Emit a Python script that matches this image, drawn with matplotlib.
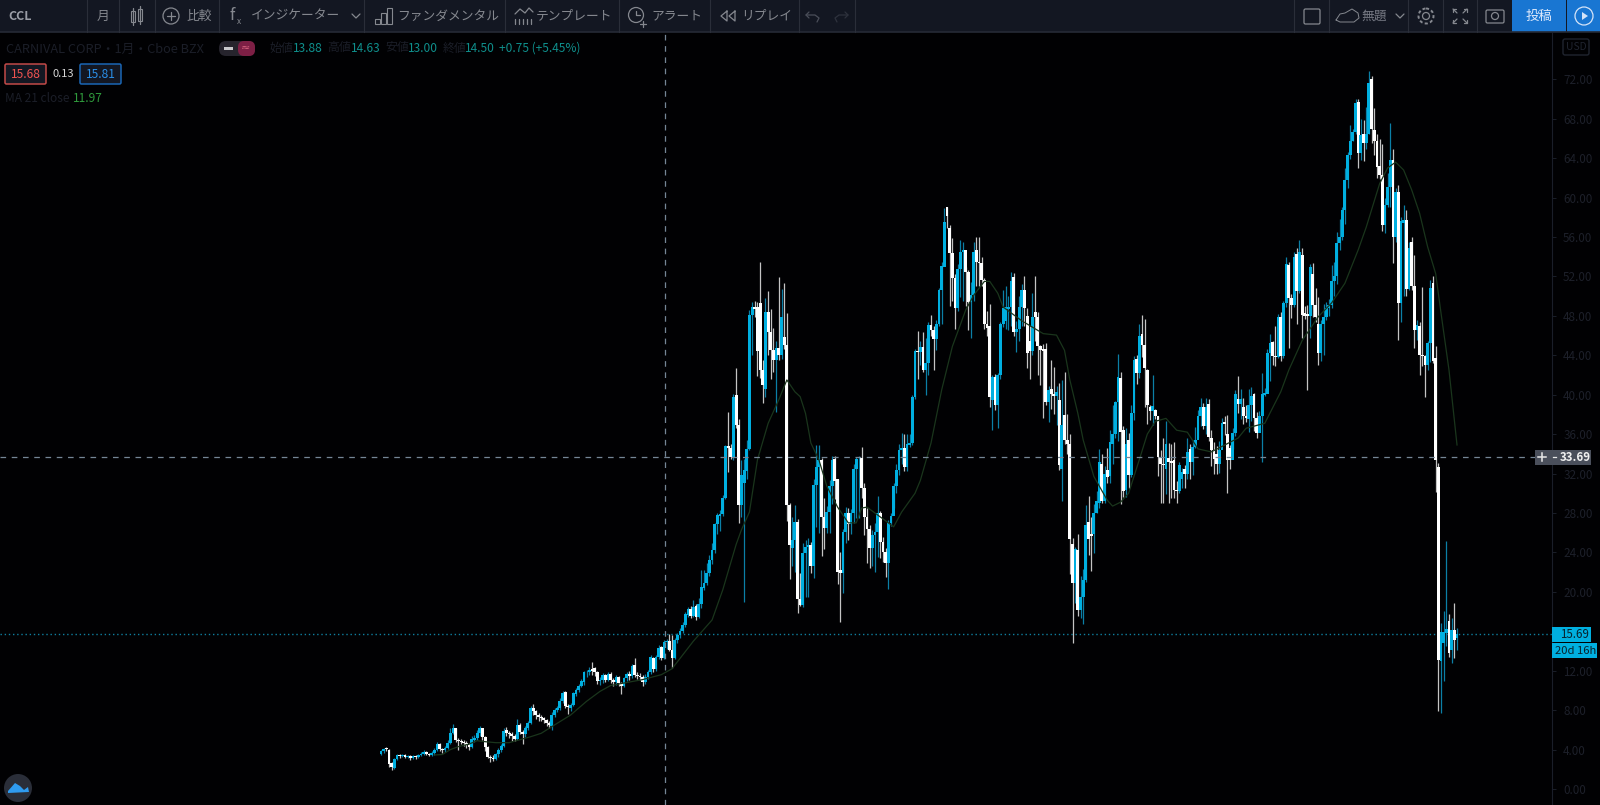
import matplotlib
matplotlib.use('Agg')
import matplotlib.pyplot as plt
from matplotlib.patches import Circle, FancyBboxPatch, Polygon, Rectangle

plt.rcParams['font.family'] = ['Noto Sans CJK JP', 'DejaVu Sans']

# candles, ten per row
opens = [
    3.55, 3.85, 4.2, 4.0, 2.6, 2.1, 3.0, 3.45, 3.3, 3.45,
    3.25, 3.35, 3.1, 3.3, 3.2, 3.4, 3.6, 3.75, 3.6, 3.45,
    3.7, 4.0, 4.6, 4.1, 3.95, 4.2, 4.7, 5.7, 6.15, 5.0,
    4.9, 4.8, 4.7, 4.5, 4.3, 5.0, 5.2, 5.7, 6.15, 5.3,
    4.3, 3.2, 3.1, 3.0, 3.6, 4.0, 4.4, 6.0, 5.7, 5.6,
    5.4, 5.1, 6.5, 5.8, 5.6, 6.2, 6.7, 8.2, 7.9, 7.5,
    7.35, 7.2, 7.0, 6.65, 6.4, 7.5, 8.0, 8.2, 8.9, 9.8,
    8.4, 8.2, 8.5, 9.6, 10.0, 10.4, 10.9, 11.9, 11.9, 12.2,
    12.3, 11.9, 11.0, 11.1, 11.6, 11.1, 11.7, 11.1, 10.9, 11.4,
    10.8, 10.5, 11.3, 11.7, 11.5, 12.6, 11.6, 11.5, 11.4, 10.9,
    11.4, 11.9, 13.3, 12.2, 13.4, 14.4, 13.3, 14.9, 15.0, 14.1,
    13.3, 15.1, 15.6, 16.0, 16.6, 17.7, 18.3, 17.6, 18.6, 17.5,
    18.8, 20.4, 20.9, 21.9, 23.2, 24.2, 26.9, 27.7, 27.9, 29.5,
    34.8, 34.6, 33.7, 40.0, 36.9, 28.8, 31.0, 32.3, 34.5, 48.1,
    48.9, 48.9, 49.3, 42.5, 40.6, 48.4, 46.4, 44.5, 43.5, 44.7,
    44.0, 45.9, 45.0, 28.8, 24.5, 25.3, 27.1, 19.3, 18.7, 23.9,
    24.6, 24.8, 22.6, 30.8, 32.7, 33.4, 27.6, 26.5, 28.1, 30.7,
    33.5, 31.4, 22.2, 21.9, 26.1, 28.0, 26.9, 28.0, 32.5, 33.5,
    33.6, 30.5, 27.6, 26.4, 24.4, 25.8, 26.1, 28.0, 25.1, 24.0,
    22.9, 27.0, 27.7, 30.7, 32.4, 34.4, 34.6, 32.7, 34.9, 35.1,
    39.8, 44.4, 44.3, 44.8, 42.5, 43.2, 47.1, 46.6, 45.7, 47.2,
    50.6, 53.0, 59.0, 56.9, 54.4, 51.8, 48.8, 52.8, 54.5, 54.7,
    52.5, 49.4, 50.1, 54.7, 53.5, 53.4, 51.6, 47.2, 47.0, 39.5,
    41.8, 39.0, 42.0, 47.2, 47.5, 48.7, 48.9, 51.9, 46.4, 46.7,
    48.9, 50.6, 48.0, 45.5, 44.4, 48.4, 47.9, 44.9, 44.6, 44.6,
    39.3, 40.6, 40.1, 39.9, 39.5, 32.5, 37.9, 35.4, 35.0, 24.9,
    20.9, 24.25, 18.2, 19.5, 21.2, 27.1, 25.9, 25.9, 28.0, 29.0,
    33.0, 29.2, 32.4, 31.8, 35.0, 36.0, 39.3, 41.7, 36.4, 30.3,
    35.4, 31.9, 38.1, 43.6, 42.2, 46.2, 45.0, 42.5, 38.8, 38.3,
    38.4, 37.8, 33.7, 33.0, 32.5, 33.6, 33.3, 33.4, 30.3, 30.2,
    31.5, 32.5, 32.0, 34.5, 33.2, 34.7, 35.4, 37.8, 38.8, 36.8,
    39.1, 35.6, 34.4, 34.0, 33.0, 34.4, 37.2, 36.0, 34.6, 33.4,
    36.1, 39.6, 39.1, 38.8, 37.8, 37.5, 39.0, 40.1, 37.6, 36.1,
    37.8, 40.0, 40.1, 44.2, 45.3, 43.9, 43.8, 47.9, 43.9, 49.3,
    53.2, 49.8, 49.1, 54.3, 50.5, 54.2, 48.3, 48.2, 48.0, 52.2,
    49.1, 47.2, 44.2, 47.2, 47.9, 48.8, 49.1, 51.5, 52.0, 55.4,
    56.0, 58.7, 61.8, 64.3, 65.7, 66.7, 69.7, 64.5, 66.5, 65.5,
    66.4, 72.0, 66.9, 65.7, 63.2, 62.3, 57.2, 59.2, 61.1, 63.8,
    56.0, 60.6, 49.3, 57.4, 57.7, 50.7, 55.5, 51.0, 46.6, 47.0,
    44.0, 43.9, 43.0, 45.2, 51.3, 43.7, 32.7, 13.0, 14.8, 15.8,
    17.0, 14.1, 16.1, 15.3,
]
highs = [
    3.95, 4.2, 4.3, 4.05, 2.7, 3.1, 3.55, 3.55, 3.6, 3.55,
    3.5, 3.5, 3.45, 3.4, 3.6, 3.8, 3.95, 3.85, 3.7, 3.85,
    4.2, 4.75, 4.7, 4.2, 4.4, 5.0, 6.2, 6.6, 6.2, 5.2,
    5.1, 5.0, 4.9, 4.7, 5.4, 5.5, 6.0, 6.4, 6.2, 5.4,
    4.4, 3.5, 3.4, 3.7, 4.2, 4.6, 6.2, 6.3, 5.9, 5.8,
    5.6, 7.1, 6.7, 6.0, 6.4, 6.9, 8.4, 8.6, 8.0, 7.7,
    7.5, 7.3, 7.1, 6.9, 7.8, 8.2, 8.4, 9.2, 9.9, 9.9,
    8.6, 8.7, 9.8, 10.2, 10.7, 11.2, 12.0, 12.1, 12.4, 12.9,
    12.4, 12.0, 11.4, 11.8, 11.7, 11.9, 11.9, 11.3, 11.6, 11.5,
    10.9, 11.4, 11.9, 12.0, 12.7, 13.3, 11.9, 11.8, 11.6, 11.7,
    12.1, 13.6, 13.4, 13.6, 14.6, 14.5, 15.1, 15.2, 15.7, 15.6,
    15.3, 15.8, 16.3, 16.9, 18.0, 18.5, 18.6, 19.2, 18.8, 19.4,
    22.2, 22.2, 22.9, 23.7, 25.0, 27.0, 28.0, 28.3, 29.8, 34.9,
    38.2, 35.0, 40.1, 42.7, 37.5, 33.4, 33.5, 35.4, 48.6, 49.4,
    49.5, 49.4, 53.5, 43.5, 49.8, 50.5, 48.7, 46.8, 45.5, 51.9,
    50.7, 51.3, 48.3, 29.0, 27.6, 28.8, 27.4, 21.9, 25.0, 25.3,
    25.5, 25.1, 31.5, 34.9, 34.9, 33.6, 29.5, 28.7, 31.3, 33.8,
    33.8, 31.4, 24.0, 26.4, 28.6, 28.5, 28.4, 33.0, 33.7, 33.8,
    34.7, 31.0, 28.5, 26.8, 26.3, 27.0, 29.7, 28.2, 25.6, 24.5,
    27.3, 28.0, 31.0, 33.0, 35.0, 36.1, 36.0, 36.0, 36.0, 40.0,
    44.6, 46.5, 45.4, 46.4, 45.8, 47.4, 48.1, 47.0, 47.6, 50.8,
    53.5, 58.9, 59.0, 57.2, 55.9, 52.2, 53.3, 55.7, 55.5, 53.0,
    52.7, 51.4, 55.5, 56.0, 56.0, 54.0, 51.8, 48.5, 49.2, 42.0,
    42.1, 42.2, 47.4, 50.6, 51.0, 50.0, 52.5, 52.3, 47.5, 50.0,
    51.2, 52.0, 48.8, 47.0, 50.3, 52.0, 48.4, 45.0, 45.1, 45.2,
    40.9, 43.5, 42.8, 40.9, 41.2, 41.5, 42.3, 38.0, 36.0, 25.5,
    24.6, 25.9, 21.6, 22.3, 28.8, 29.7, 27.6, 28.9, 30.2, 34.5,
    34.0, 32.8, 34.6, 36.4, 39.0, 39.4, 44.1, 42.3, 36.8, 36.6,
    36.1, 39.0, 43.9, 44.0, 47.2, 48.1, 47.7, 42.6, 39.0, 42.0,
    38.6, 37.8, 34.4, 35.6, 37.3, 35.1, 35.0, 35.2, 31.2, 33.2,
    32.6, 32.9, 35.6, 35.0, 35.4, 36.7, 38.5, 39.7, 39.2, 39.7,
    39.6, 36.4, 35.2, 34.8, 35.3, 37.6, 37.8, 37.9, 34.9, 36.6,
    40.5, 41.9, 40.6, 39.7, 39.0, 40.6, 40.8, 40.2, 38.2, 38.3,
    42.2, 40.7, 44.6, 46.2, 45.4, 47.0, 48.2, 48.4, 49.5, 54.0,
    53.5, 50.2, 54.5, 54.9, 55.7, 54.9, 49.0, 49.1, 53.3, 53.4,
    50.8, 49.9, 47.6, 49.2, 49.4, 49.7, 53.2, 53.5, 56.5, 57.8,
    59.0, 63.0, 64.6, 67.4, 67.0, 70.0, 70.0, 68.0, 67.9, 69.2,
    72.8, 72.3, 69.1, 66.5, 65.9, 65.4, 60.0, 62.5, 67.6, 64.9,
    61.0, 61.3, 58.0, 59.2, 58.7, 55.5, 56.0, 54.2, 47.6, 47.4,
    50.9, 44.0, 45.5, 51.6, 52.0, 44.9, 33.1, 16.8, 18.1, 25.2,
    17.8, 17.3, 18.9, 16.3,
]
lows = [
    3.4, 3.7, 3.9, 2.2, 1.9, 2.05, 2.9, 3.1, 3.2, 3.1,
    3.1, 2.95, 3.0, 3.0, 3.15, 3.3, 3.5, 3.4, 3.3, 3.35,
    3.5, 3.9, 3.9, 3.7, 3.8, 4.1, 4.6, 5.6, 4.8, 4.0,
    4.6, 4.4, 4.2, 4.0, 4.2, 4.8, 5.0, 5.4, 5.0, 3.9,
    3.1, 2.7, 2.8, 2.9, 3.2, 3.8, 4.3, 5.4, 5.2, 4.9,
    4.9, 5.0, 5.6, 4.6, 5.3, 6.0, 6.6, 7.5, 7.1, 6.9,
    6.9, 6.7, 6.4, 6.2, 6.0, 7.3, 7.8, 8.0, 8.7, 8.2,
    7.6, 7.9, 8.4, 9.4, 9.8, 10.3, 10.6, 11.4, 11.6, 11.6,
    11.5, 10.7, 10.6, 10.8, 10.9, 11.0, 10.8, 10.5, 10.6, 10.5,
    9.6, 10.3, 11.0, 11.1, 11.3, 11.4, 11.2, 11.1, 10.4, 10.7,
    11.2, 11.7, 11.9, 12.0, 13.2, 13.1, 13.2, 14.2, 14.0, 12.3,
    13.2, 14.8, 15.3, 15.8, 16.4, 17.5, 17.3, 17.4, 17.1, 17.3,
    18.4, 20.2, 20.7, 21.6, 22.8, 23.9, 25.9, 26.2, 27.7, 29.4,
    32.2, 33.5, 33.4, 36.6, 27.0, 27.6, 19.0, 31.4, 34.4, 44.0,
    47.9, 41.9, 41.7, 39.2, 39.8, 44.0, 41.6, 42.3, 38.2, 43.5,
    43.6, 44.6, 27.2, 21.3, 22.6, 22.0, 17.9, 18.6, 18.5, 19.5,
    19.5, 21.9, 21.4, 26.6, 26.0, 23.6, 24.3, 26.0, 26.0, 28.9,
    29.4, 20.8, 16.9, 19.9, 25.0, 25.3, 25.9, 27.0, 27.5, 27.5,
    29.5, 25.8, 22.9, 22.4, 22.6, 22.0, 23.5, 23.4, 23.0, 21.5,
    20.3, 26.7, 28.5, 30.0, 31.9, 33.0, 32.3, 32.3, 34.7, 34.9,
    39.6, 41.6, 43.0, 42.3, 40.0, 42.0, 46.0, 42.5, 44.5, 47.0,
    47.2, 54.0, 56.9, 49.0, 49.5, 46.7, 48.5, 49.9, 49.5, 49.0,
    46.6, 45.8, 49.5, 51.0, 51.0, 51.0, 46.7, 46.0, 38.8, 36.4,
    38.4, 36.6, 41.6, 46.9, 46.7, 46.6, 47.0, 46.0, 44.3, 45.5,
    47.0, 47.0, 42.7, 41.6, 44.0, 45.5, 42.0, 41.0, 37.6, 39.0,
    37.2, 38.6, 38.0, 36.9, 32.4, 29.2, 35.0, 34.0, 21.8, 14.8,
    18.9, 17.6, 17.3, 16.7, 21.0, 23.7, 22.1, 23.9, 28.0, 28.5,
    29.0, 29.0, 31.0, 31.0, 33.0, 35.6, 35.3, 28.9, 29.6, 29.6,
    30.5, 31.7, 37.4, 41.1, 41.7, 43.8, 38.8, 37.0, 37.4, 36.9,
    37.5, 31.8, 29.0, 29.0, 29.9, 29.0, 29.5, 29.5, 29.0, 30.0,
    30.5, 30.5, 31.5, 31.5, 31.9, 34.6, 35.6, 36.8, 36.5, 36.0,
    35.3, 32.8, 32.0, 32.0, 32.1, 34.9, 35.9, 30.0, 32.5, 34.5,
    35.8, 38.1, 37.5, 37.0, 37.2, 36.2, 37.3, 36.3, 35.6, 37.3,
    33.2, 39.9, 41.7, 41.4, 43.0, 42.9, 43.7, 43.4, 43.7, 48.9,
    44.7, 47.8, 48.9, 47.2, 50.3, 45.8, 47.7, 40.5, 45.8, 47.9,
    47.4, 43.0, 43.4, 44.0, 47.6, 48.0, 48.8, 50.0, 51.2, 54.7,
    55.7, 57.3, 61.0, 63.9, 65.7, 66.4, 63.0, 63.8, 63.7, 64.9,
    66.5, 65.5, 64.3, 62.0, 61.9, 56.6, 56.4, 59.0, 59.0, 53.4,
    55.5, 45.6, 47.4, 50.0, 50.0, 50.6, 50.6, 44.7, 45.6, 42.0,
    42.9, 39.8, 42.5, 43.3, 43.2, 30.1, 7.9, 7.7, 11.0, 14.5,
    13.4, 12.8, 13.3, 14.1,
]
closes = [
    3.85, 4.05, 4.1, 2.5, 2.2, 3.0, 3.4, 3.3, 3.45, 3.25,
    3.35, 3.1, 3.3, 3.2, 3.45, 3.6, 3.75, 3.6, 3.45, 3.7,
    4.0, 4.6, 4.1, 3.95, 4.2, 4.7, 5.7, 6.15, 5.0, 4.9,
    4.8, 4.7, 4.5, 4.3, 5.1, 5.2, 5.7, 6.15, 5.3, 4.3,
    3.2, 3.1, 3.0, 3.6, 4.0, 4.4, 5.9, 5.7, 5.6, 5.4,
    5.1, 6.5, 5.8, 5.6, 6.2, 6.7, 8.2, 7.9, 7.5, 7.35,
    7.2, 7.0, 6.65, 6.5, 7.5, 8.0, 8.2, 8.9, 9.7, 8.4,
    8.3, 8.5, 9.7, 10.0, 10.5, 11.0, 11.9, 11.9, 12.1, 11.95,
    11.9, 11.0, 11.1, 11.6, 11.1, 11.7, 11.1, 10.9, 11.4, 10.8,
    10.5, 11.3, 11.7, 11.5, 12.5, 11.6, 11.5, 11.4, 10.9, 11.4,
    11.9, 13.4, 12.2, 13.4, 14.3, 13.3, 14.9, 15.0, 14.1, 13.3,
    15.1, 15.6, 16.0, 16.6, 17.8, 18.3, 17.6, 18.5, 17.5, 18.8,
    20.5, 20.9, 21.9, 23.2, 24.2, 26.9, 27.8, 27.9, 29.5, 34.8,
    34.6, 33.7, 39.8, 36.9, 28.8, 31.9, 32.4, 34.5, 48.1, 48.9,
    48.7, 44.4, 42.5, 41.0, 48.4, 46.4, 44.5, 43.5, 44.7, 44.0,
    47.9, 45.0, 28.8, 24.8, 25.3, 27.1, 19.3, 18.7, 23.9, 24.6,
    24.8, 22.6, 30.8, 32.7, 33.4, 27.6, 26.5, 28.1, 30.7, 33.4,
    31.2, 22.0, 21.9, 26.1, 28.0, 26.9, 28.0, 32.5, 33.5, 33.5,
    30.5, 27.6, 26.4, 24.4, 25.8, 26.1, 28.0, 25.1, 24.0, 22.9,
    27.0, 27.7, 30.7, 32.4, 34.4, 34.6, 32.7, 35.0, 35.1, 39.8,
    44.4, 44.3, 44.8, 42.5, 43.2, 47.1, 46.6, 45.7, 47.2, 50.6,
    53.05, 57.55, 58.1, 54.4, 51.8, 48.75, 52.8, 54.5, 54.7, 52.5,
    49.4, 50.1, 54.5, 53.5, 53.4, 51.6, 47.2, 46.75, 39.8, 41.8,
    38.95, 42.0, 47.2, 48.75, 48.9, 48.9, 51.5, 46.4, 46.7, 48.9,
    50.6, 48.75, 44.2, 44.4, 47.9, 47.9, 44.9, 44.5, 44.4, 39.3,
    40.5, 40.1, 39.9, 40.3, 32.9, 36.9, 35.4, 35.0, 25.4, 20.9,
    24.3, 18.2, 19.5, 21.2, 26.8, 25.4, 25.7, 28.0, 29.2, 33.2,
    29.2, 32.0, 31.7, 35.2, 36.0, 39.3, 41.8, 36.25, 30.2, 35.0,
    31.85, 38.1, 43.5, 42.2, 46.0, 45.0, 42.7, 39.0, 38.3, 38.9,
    37.8, 33.7, 33.0, 32.9, 35.0, 33.2, 33.1, 30.3, 30.2, 32.9,
    32.2, 32.0, 34.2, 33.2, 34.7, 35.4, 37.8, 38.8, 36.8, 38.8,
    35.7, 34.4, 33.5, 33.0, 34.4, 37.1, 37.0, 33.4, 33.4, 36.1,
    40.1, 39.1, 39.6, 37.8, 37.6, 39.0, 39.9, 37.6, 36.1, 37.8,
    40.1, 40.2, 44.2, 45.2, 43.9, 43.8, 47.9, 43.9, 49.3, 53.3,
    49.8, 49.1, 54.0, 50.5, 54.5, 48.1, 48.0, 48.0, 53.0, 49.1,
    47.9, 44.2, 47.2, 47.9, 48.8, 49.1, 51.5, 52.0, 55.4, 56.0,
    58.7, 61.8, 64.3, 65.7, 66.7, 69.6, 64.5, 66.3, 65.5, 66.4,
    71.6, 67.0, 65.7, 63.1, 62.3, 57.2, 59.2, 61.1, 63.8, 56.0,
    60.6, 49.3, 57.6, 57.7, 50.7, 54.9, 51.0, 46.6, 47.1, 44.0,
    43.9, 43.0, 45.2, 50.8, 43.4, 33.4, 13.1, 15.9, 15.9, 16.2,
    13.8, 16.1, 15.1, 15.69,
]

# moving average, points
ma_bars = [20, 23, 26, 29, 33, 36, 39, 43, 48, 52, 56, 60, 65, 71, 77, 82, 86, 92, 98,
           105, 109, 111, 117, 124, 128, 133, 135, 138, 141, 145, 149, 152, 155, 157, 159,
           161, 164, 167, 171, 175, 178, 180, 182, 187, 190, 192, 195, 200, 202, 206, 210,
           214, 219, 222, 226, 228, 231, 233, 240, 248, 253, 256, 258, 261, 263, 267, 272,
           274, 277, 280, 284, 287, 290, 294, 298, 302, 306, 311, 321, 324, 331, 337, 340,
           345, 351, 356, 361, 366, 369, 374, 377, 380, 383, 386, 389, 392, 395, 397, 400, 403]
ma_values = [3.45, 3.5, 4.0, 4.3, 4.56, 4.9, 4.8, 4.7, 4.7, 5.0, 5.3, 5.65, 6.5, 7.5, 8.9, 9.9,
             10.5, 10.8, 11.1, 11.6, 12.2, 12.9, 15.0, 17.15, 20.2, 24.8, 26.3, 28.1, 33.4, 37.1,
             39.5, 41.5, 40.3, 39.8, 38.1, 35.1, 33.4, 30.7, 28.6, 27.0, 27.0, 28.5, 28.6, 27.6,
             27.0, 26.6, 28.1, 30.0, 31.3, 35.1, 40.5, 44.9, 48.6, 50.1, 51.5, 51.5, 50.3, 48.9,
             47.5, 46.2, 46.05, 44.5, 41.5, 38.1, 35.4, 31.7, 29.3, 28.7, 29.1, 30.0, 33.4, 36.0,
             37.3, 37.6, 36.4, 36.2, 34.5, 34.2, 35.6, 36.6, 37.1, 40.3, 42.5, 45.5, 47.9, 49.3,
             51.3, 54.7, 57.0, 61.4, 63.0, 63.6, 62.8, 60.8, 58.4, 55.0, 52.3, 48.3, 42.5, 34.9]

price_ticks = list(range(0, 76, 4))
last_price = 15.69
cross_price = 33.69
cross_bar = 106.2

BG = '#010103'
BAR = '#131722'
LINE = '#2a2e39'
MUTED = '#85888f'
DIM = '#1b1e28'
UP = '#00afe0'
UP_WICK = '#0b7fa6'
DOWN = '#ffffff'
DOWN_WICK = '#c4c4c4'
CROSS = '#758696'
TEAL = '#0f8f8c'

W, H = 1600, 805
fig = plt.figure(figsize=(W / 100, H / 100), dpi=100, facecolor=BG)

# price pane: bar i sits at 381 + 2.67 i px, price p at 789 - 9.857 p px
ax = fig.add_axes([0, 0, 1552 / W, 772 / H], facecolor=BG)
ax.set_xlim(-381 / 2.67, (1552 - 381) / 2.67)
ax.set_ylim((789 - 805) / 9.857, (789 - 33) / 9.857)
for name in ['top', 'left', 'bottom']:
    ax.spines[name].set_visible(False)
ax.spines['right'].set_color('#1a1e29')
ax.xaxis.set_visible(False)
ax.yaxis.tick_right()
ax.set_yticks(price_ticks)
# the 16.00 label sits under the last price tag
ax.set_yticklabels(['' if p == 16 else '%.2f' % p for p in price_ticks], fontsize=8.4, color='#1d202a')
ax.tick_params(axis='y', length=3, width=0.7, color='#1a1e29', pad=5)

bars = list(range(len(closes)))
is_up = [c >= o for o, c in zip(opens, closes)]

ax.axhline(last_price, color='#0f7f9f', lw=1, ls=(0, (1, 2)), zorder=1)
ax.vlines(bars, lows, highs, colors=[UP_WICK if u else DOWN_WICK for u in is_up],
          lw=0.9, zorder=2)
ax.bar(bars, [abs(c - o) for o, c in zip(opens, closes)], width=1.05,
       bottom=[min(o, c) for o, c in zip(opens, closes)],
       color=[UP if u else DOWN for u in is_up], linewidth=0, zorder=3)
ax.plot(ma_bars, ma_values, color='#1a351c', lw=0.9, zorder=4)
ax.axhline(cross_price, color=CROSS, lw=0.9, ls=(0, (4.5, 4.5)), zorder=5)
ax.axvline(cross_bar, color=CROSS, lw=0.9, ls=(0, (4.5, 4.5)), zorder=5)

# screen furniture in pixel coordinates
ui = fig.add_axes([0, 0, 1, 1], facecolor='none')
ui.set_xlim(0, W)
ui.set_ylim(H, 0)
ui.axis('off')


def txt(x, y, s, color=MUTED, size=9.2, **kw):
    ui.text(x, y, s, color=color, fontsize=size, va='center', **kw)


def icon_line(xs, ys, color=MUTED, lw=0.9):
    ui.plot(xs, ys, color=color, lw=lw, solid_capstyle='round')


def box(x0, y0, x1, y1, face, edge='none', lw=1.0, pad=1.5):
    ui.add_patch(FancyBboxPatch((x0, y0), x1 - x0, y1 - y0, boxstyle='round,pad=0,rounding_size=%g' % pad,
                                facecolor=face, edgecolor=edge, lw=lw))


# toolbar
ui.add_patch(Rectangle((0, 0), W, 32, facecolor=BAR, edgecolor='none'))
ui.plot([0, W], [32.5, 32.5], color='#262a36', lw=1.2)
for x in [87, 119, 155, 219, 364, 505, 619, 710, 799, 855, 1294, 1329, 1408, 1443, 1477]:
    ui.plot([x, x], [0, 32], color=LINE, lw=0.8)

txt(8, 16, 'CCL', size=9, fontweight='bold', color='#9a9da6')
txt(97, 16, '月')
txt(186, 16, '比較')
txt(251, 16, 'インジケーター')
txt(397, 16, 'ファンダメンタル')
txt(536, 16, 'テンプレート')
txt(651, 16, 'アラート')
txt(741, 16, 'リプレイ')
txt(1361, 16, '無題', color='#777a84')

# candle icon
for x, y0, y1 in [(133, 11, 22), (140, 9, 21)]:
    ui.add_patch(Rectangle((x - 2, y0), 4, y1 - y0, facecolor='none', edgecolor=MUTED, lw=0.8))
    icon_line([x, x], [y0 - 3, y1 + 3])
# compare
ui.add_patch(Circle((171, 16), 8, facecolor='none', edgecolor=MUTED, lw=0.9))
icon_line([167, 175], [16, 16])
icon_line([171, 171], [12, 20])
# fx
txt(230, 15, 'f', size=12, style='italic')
txt(237, 21, 'x', size=6)
icon_line([352, 356, 360], [14, 18, 14])
# fundamentals
for x, y0 in [(375, 19), (381, 13), (387, 8)]:
    ui.add_patch(Rectangle((x, y0), 5, 24 - y0, facecolor='none', edgecolor=MUTED, lw=0.8))
# template
icon_line([515, 520, 525, 529, 533], [14, 9, 13, 8, 12])
for x in [515, 519, 523, 527, 531]:
    icon_line([x, x], [19, 24])
# alert
ui.add_patch(Circle((636, 15), 7.5, facecolor='none', edgecolor=MUTED, lw=0.9))
icon_line([636, 636, 640], [11, 15, 15])
icon_line([640, 646], [24, 24])
icon_line([643, 643], [21, 27])
# replay
icon_line([727, 721, 727, 727], [11, 16, 21, 11])
icon_line([735, 729, 735, 735], [11, 16, 21, 11])
# undo and redo
icon_line([809, 806, 809], [12, 15, 18], color='#4a4e59')
icon_line([806, 815, 819, 817], [15, 15, 18, 22], color='#4a4e59')
icon_line([845, 848, 845], [12, 15, 18], color='#2e323d')
icon_line([848, 839, 835, 837], [15, 15, 18, 22], color='#2e323d')

# right hand side icons
ui.add_patch(FancyBboxPatch((1304, 9), 16, 15, boxstyle='round,pad=0,rounding_size=1.5',
                            facecolor='none', edgecolor=MUTED, lw=0.9))
icon_line([1336, 1340, 1345, 1352, 1358, 1359, 1354, 1340, 1336],
          [20, 14, 13, 9, 13, 18, 22, 22, 20], lw=0.7)
icon_line([1396, 1400, 1404], [14, 18, 14])
ui.add_patch(Circle((1426, 16), 3.5, facecolor='none', edgecolor=MUTED, lw=0.9))
ui.add_patch(Circle((1426, 16), 7.5, facecolor='none', edgecolor=MUTED, lw=1.4, ls=(0, (1.6, 1.2))))
for sx, sy in [(-1, -1), (1, -1), (-1, 1), (1, 1)]:
    icon_line([1460 + sx * 3, 1460 + sx * 7], [16 + sy * 3, 16 + sy * 7])
    icon_line([1460 + sx * 7, 1460 + sx * 7], [16 + sy * 7, 16 + sy * 4])
    icon_line([1460 + sx * 7, 1460 + sx * 4], [16 + sy * 7, 16 + sy * 7])
ui.add_patch(FancyBboxPatch((1486, 10), 18, 13, boxstyle='round,pad=0,rounding_size=1.5',
                            facecolor='none', edgecolor=MUTED, lw=0.9))
ui.add_patch(Circle((1495, 16), 3.5, facecolor='none', edgecolor=MUTED, lw=0.9))

ui.add_patch(Rectangle((1512, 0), 54, 32, facecolor='#1976d2', edgecolor='none'))
ui.add_patch(Rectangle((1567, 0), 33, 32, facecolor='#1976d2', edgecolor='none'))
txt(1539, 16, '投稿', color='#dfeafc', size=9.6, ha='center')
ui.add_patch(Circle((1584, 16), 9, facecolor='none', edgecolor='#d5e4f8', lw=0.9))
ui.add_patch(Polygon([[1582, 12], [1582, 20], [1588, 16]], facecolor='#d5e4f8', edgecolor='none'))

# legend
txt(6, 49, 'CARNIVAL CORP・1月・Cboe BZX', color=DIM)
box(219, 41, 255, 56, '#26242d', pad=7)
ui.add_patch(FancyBboxPatch((238, 41), 17, 15, boxstyle='round,pad=0,rounding_size=6',
                            facecolor='#7d1f45', edgecolor='none'))
ui.add_patch(Rectangle((224, 47), 9, 3.5, facecolor='#c9c9cc', edgecolor='none'))
txt(246, 48, '≈', color='#d6627f', size=8, ha='center', family=['DejaVu Sans'])
txt(269, 48, '始値', color=DIM, size=8.6)
txt(293, 48, '13.88', color=TEAL, size=8.6)
txt(327, 48, '高値', color=DIM, size=8.6)
txt(351, 48, '14.63', color=TEAL, size=8.6)
txt(385, 48, '安値', color=DIM, size=8.6)
txt(408, 48, '13.00', color=TEAL, size=8.6)
txt(443, 48, '終値', color=DIM, size=8.6)
txt(465, 48, '14.50', color=TEAL, size=8.6)
txt(499, 48, '+0.75 (+5.45%)', color=TEAL, size=8.6)

box(5, 64, 46, 84, '#131722', edge='#c24a48', lw=1.1)
txt(25.5, 74, '15.68', color='#ef5350', size=8.6, ha='center')
txt(63, 74, '0.13', color='#d6d6d6', size=8, ha='center')
box(80, 64, 121, 84, '#131722', edge='#1a66b5', lw=1.1)
txt(100.5, 74, '15.81', color='#2a8fe8', size=8.6, ha='center')
txt(5, 99, 'MA 21 close', color=DIM, size=8.6)
txt(73, 99, '11.97', color='#2f9a3c', size=8.6)

# axis side tags
box(1563, 39, 1589, 55, BG, edge='#20242f', lw=1.0, pad=2)
txt(1576, 47, 'USD', color='#20242f', size=7.4, ha='center')

ui.add_patch(Rectangle((1535, 450), 56, 14.5, facecolor='#4a4f5b', edgecolor='none'))
ui.plot([1542, 1542], [453, 461], color='#e8e8e8', lw=1.1)
ui.plot([1538, 1546], [457, 457], color='#e8e8e8', lw=1.1)
ui.plot([1553, 1556], [457, 457], color='#e8e8e8', lw=0.9)
txt(1560, 457, '33.69', color='#f0f0f0', size=8.3, fontweight='bold')
ui.add_patch(Rectangle((1552, 627), 39, 15, facecolor=UP, edgecolor='none'))
txt(1560, 634.5, '15.69', color='#08222c', size=8.3)
ui.add_patch(Rectangle((1552, 643), 45, 15, facecolor=UP, edgecolor='none'))
txt(1555, 650.5, '20d 16h', color='#08222c', size=8.1)

# logo
ui.add_patch(Circle((18, 788), 14, facecolor='#2a2e39', edgecolor='none'))
ui.add_patch(Polygon([[8, 791], [15, 783], [20, 786], [24, 790], [28, 787], [29, 792], [8, 793]],
                     facecolor='#2f9bef', edgecolor='none'))

fig.savefig('out.png', dpi=100, facecolor=BG)
